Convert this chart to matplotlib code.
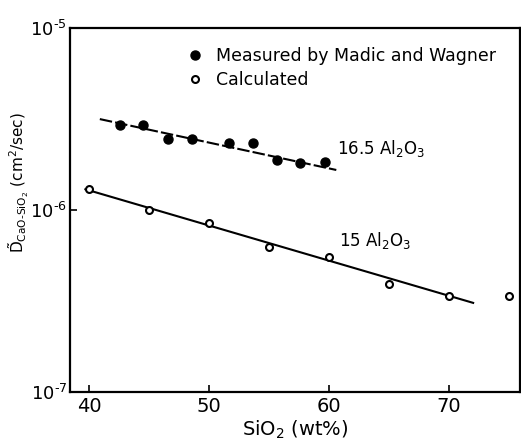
import matplotlib
matplotlib.use("Agg")
import matplotlib.pyplot as plt

# --- data ---
measured_x = [42.6, 44.5, 46.6, 48.6, 51.7, 53.7, 55.7, 57.6, 59.7]
measured_y = [2.93e-6, 2.93e-6, 2.46e-6, 2.46e-6, 2.33e-6, 2.33e-6, 1.89e-6, 1.81e-6, 1.83e-6]

calc_x = [40, 45, 50, 55, 60, 65, 70, 75]
calc_y = [1.30e-6, 1.00e-6, 8.45e-7, 6.3e-7, 5.5e-7, 3.9e-7, 3.35e-7, 3.35e-7]

# fitted lines (end points)
fit_meas_x = [40.9, 60.6]
fit_meas_y = [3.16e-6, 1.66e-6]
fit_calc_x = [39.7, 72.0]
fit_calc_y = [1.30e-6, 3.09e-7]

xticks = [40, 50, 60, 70]
yticks = [1e-7, 1e-6, 1e-5]
ytick_labels = [r'$10^{\text{-}7}$', r'$10^{\text{-}6}$', r'$10^{\text{-}5}$']

plt.rcParams['font.family'] = ['DejaVu Sans']
plt.rcParams['mathtext.fontset'] = 'dejavusans'

fig = plt.figure(figsize=(5.21, 4.45), dpi=100)
ax = fig.add_axes([0.134, 0.119, 0.864, 0.818])

# --- lines ---
ax.plot(fit_meas_x, fit_meas_y, color='black', lw=1.5, ls=(0, (6, 1.5)), zorder=2)
ax.plot(fit_calc_x, fit_calc_y, color='black', lw=1.5, zorder=2)

# --- points ---
ax.plot(measured_x, measured_y, 'o', color='black', ms=6.5, zorder=3,
        label='Measured by Madic and Wagner')
ax.plot(calc_x, calc_y, 'o', mfc='white', mec='black', mew=1.5, ms=5, zorder=3,
        label='Calculated')

ax.set_yscale('log')
ax.set_xlim(38.4, 75.9)
ax.set_ylim(1e-7, 1e-5)
ax.set_xticks(xticks)
ax.set_yticks(yticks, labels=ytick_labels)
ax.minorticks_off()
ax.tick_params(direction='in', length=5, width=1.2, labelsize=14)
ax.tick_params(axis='y', labelsize=13, pad=2)

for s in ax.spines.values():
    s.set_linewidth(1.6)

# --- labels ---
ax.text(60.7, 2.19e-6, r'16.5 Al$_2$O$_3$', fontsize=12, va='center')
ax.text(60.8, 6.84e-7, r'15 Al$_2$O$_3$', fontsize=12, va='center')

ax.set_xlabel(r'SiO$_2$ (wt%)', fontsize=14, labelpad=2)
ax.set_ylabel(r'$\tilde{\mathrm{D}}_{\mathrm{CaO\text{-}SiO_2}}$ (cm$^2$/sec)', fontsize=11)
ax.yaxis.set_label_coords(-0.086, 0.574)

ax.legend(loc='upper left', bbox_to_anchor=(0.22, 0.99), frameon=False,
          fontsize=12.5, handletextpad=0.6, handlelength=1.2, labelspacing=0.35)

fig.savefig('out.png', dpi=100)
